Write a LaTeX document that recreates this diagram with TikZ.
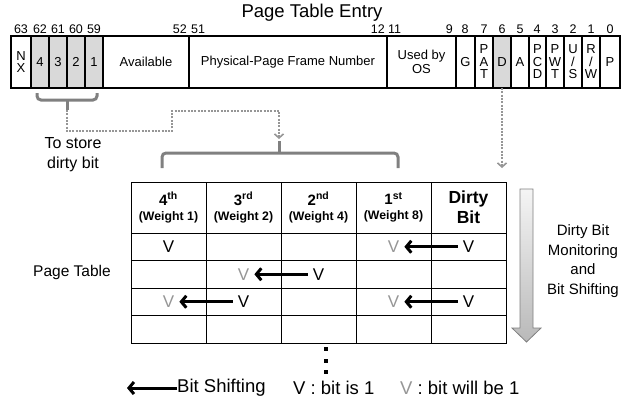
\documentclass[tikz,border=0pt]{standalone}
\usepackage{fontspec}
\setmainfont{Liberation Sans}
\usetikzlibrary{arrows.meta,calc}

\definecolor{cellgray}{RGB}{217,217,217}
\definecolor{bracketgray}{RGB}{128,128,128}
\definecolor{dotgray}{RGB}{150,150,150}
\definecolor{softv}{RGB}{150,150,150}

\tikzset{
  bitcell/.style={draw, line width=2.2pt, minimum height=52pt, inner sep=0pt,
    outer sep=0pt, anchor=north west, align=center,
    font=\fontsize{13}{12.5}\selectfont},
  bitnum/.style={inner sep=0pt, font=\fontsize{12.5}{13}\selectfont},
  tabcell/.style={draw, line width=0.9pt, minimum width=75pt, inner sep=0pt,
    outer sep=0pt, anchor=north west, align=center},
  vmark/.style={inner sep=5pt, font=\fontsize{17}{17}\selectfont},
  vsoft/.style={vmark, text=softv},
  shiftarrow/.style={line width=3pt, -{Straight Barb[length=5pt,width=12pt]}},
  bracket/.style={line width=3pt, draw=bracketgray, rounded corners=4pt},
  dotline/.style={line width=2pt, draw=dotgray, dash pattern=on 2pt off 1.3pt},
  dotarrow/.style={dotline, -{Straight Barb[length=4pt,width=9pt,line width=1.6pt]}},
  plain/.style={inner sep=0pt, align=center},
  legend/.style={plain, anchor=west, font=\fontsize{18.5}{18.5}\selectfont},
}

\begin{document}
\begin{tikzpicture}[x=1pt,y=-1pt]
\useasboundingbox (0,0) rectangle (632,405);

% title
\node[plain, font=\fontsize{18.5}{18.5}\selectfont] (title) at (312,13) {Page Table Entry};

% the 64-bit page table entry
\foreach \a/\b/\t/\f/\n in {
  11/31/{N\\X}/white/nx,
  31/49/4/cellgray/c4, 49/67/3/cellgray/c3, 67/85/2/cellgray/c2, 85/103/1/cellgray/c1,
  103/189/Available/white/avail,
  189/387/Physical-Page Frame Number/white/pfn,
  387/456/{Used by\\[2pt]OS}/white/os,
  456/475/G/white/g, 475/493/{P\\A\\T}/white/pat, 493/511/D/cellgray/d,
  511/529/A/white/acc, 529/546/{P\\C\\D}/white/pcd, 546/564/{P\\W\\T}/white/pwt,
  564/582/{U\\/\\S}/white/us, 582/600/{R\\/\\W}/white/rw, 600/620/P/white/pres}
  \node[bitcell, fill=\f, minimum width={(\b-\a)*1pt}] (\n) at (\a,36) {\t};

% bit positions
\foreach \x/\t in {21/63, 40/62, 58/61, 76/60, 94/59, 465/8, 484/7, 502/6,
                   520/5, 537/4, 555/3, 573/2, 591/1, 610/0}
  \node[bitnum] (n\t) at (\x,29) {\t};
\node[bitnum, anchor=east] (n52) at (187,29) {52};
\node[bitnum, anchor=west] (n51) at (191,29) {51};
\node[bitnum, anchor=east] (n12) at (385,29) {12};
\node[bitnum, anchor=west] (n11) at (388,29) {11};
\node[bitnum, anchor=east] (n9) at (453,29) {9};

% bracket under the four spare bits
\draw[bracket] (37,93) -- (37,100) -- (97,100) -- (97,93);
\coordinate (brA) at (67,110);
\draw[bracket] (67,100) -- (brA);
\node[plain, font=\fontsize{16}{20}\selectfont] (store) at (73,155) {To store\\dirty bit};

% bracket over the history columns
\draw[bracket] (162,168) -- (162,153) -- (398,153) -- (398,168);
\coordinate (brB) at (279,139);
\draw[bracket] (279,153) -- (279,141);

% dotted links
\draw[dotarrow] (brA) |- (172,131) |- (279,111) -- (brB);
\coordinate (dtip) at (502,168);
\draw[dotarrow] (d.south) -- (dtip);

% page table: header row
\foreach \i/\o/\s/\w in {0/4/th/1, 1/3/rd/2, 2/2/nd/4, 3/1/st/8}
  \node[tabcell, minimum height=51pt] (h\o) at ({131+75*\i},182)
    {\fontsize{15}{15}\selectfont\bfseries \o\textsuperscript{\s}\\[3pt]
     \fontsize{12.3}{13}\selectfont\bfseries (Weight \w)};
\node[tabcell, minimum height=51pt, font=\fontsize{17.5}{20}\selectfont\bfseries]
  (hd) at (431,182) {Dirty\\Bit};

% page table: body rows
\foreach \r in {1,...,4}
  \foreach \c in {1,...,5}
    \node[tabcell, minimum height=27.5pt] (t\r\c) at ({131+75*(\c-1)},{233+27.5*(\r-1)}) {};

% bit marks
\node[vmark] (v11) at (t11) {V};
\node[vmark] (v15) at (t15) {V};
\node[vsoft] (g14) at (t14) {V};
\node[vmark] (v23) at (t23) {V};
\node[vsoft] (g22) at (t22) {V};
\node[vmark] (v32) at (t32) {V};
\node[vsoft] (g31) at (t31) {V};
\node[vmark] (v35) at (t35) {V};
\node[vsoft] (g34) at (t34) {V};

\draw[shiftarrow] (v15.west) -- (g14.east);
\draw[shiftarrow] (v23.west) -- (g22.east);
\draw[shiftarrow] (v32.west) -- (g31.east);
\draw[shiftarrow] (v35.west) -- (g34.east);

\node[plain, font=\fontsize{15.5}{16}\selectfont] (ptlabel) at (72,272) {Page Table};

% monitoring direction
\shade[top color=gray!8, bottom color=gray!55, draw=gray, line width=0.8pt]
  (520,189) -- (533,189) -- (533,328) -- (541,328) -- (526.5,342)
  -- (512,328) -- (520,328) -- cycle;
\node[plain, font=\fontsize{15}{19.5}\selectfont] (monitor) at (583,261)
  {Dirty Bit\\Monitoring\\and\\Bit Shifting};

% continuation dots
\foreach \y in {349,361,372}
  \fill (324,\y-2) rectangle (328,\y+2);

% legend
\node[legend] (legshift) at (177,388) {Bit Shifting};
\coordinate (legtip) at (127,388);
\draw[shiftarrow] (legshift.west) -- (legtip);
\node[legend] (legis) at (293,388) {V : bit is 1};
\node[legend] (legwill) at (400,388) {\textcolor{softv}{V} : bit will be 1};
\end{tikzpicture}
\end{document}
